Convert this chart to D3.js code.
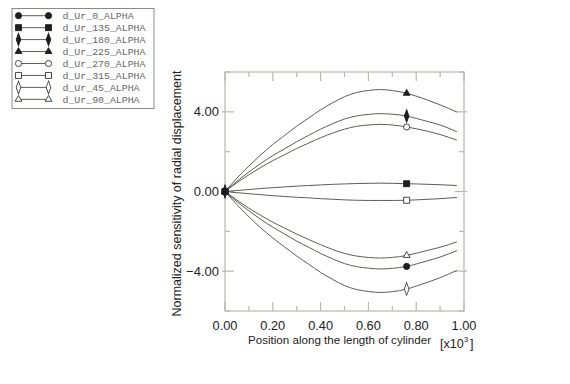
<!DOCTYPE html>
<html>
<head>
<meta charset="utf-8">
<script src="https://cdn.jsdelivr.net/npm/d3@7"></script>
<style>
  body { margin: 0; background: #fff; }
  svg { display: block; font-family: "Liberation Sans", Arial, sans-serif; }
</style>
</head>
<body>
<div id="chart"></div>
<script>
// position along the cylinder (x10^3)
const xs = [0, 0.05, 0.1, 0.15, 0.2, 0.25, 0.3, 0.35, 0.4, 0.45, 0.5, 0.55, 0.6, 0.65, 0.7, 0.76, 0.8, 0.85, 0.9, 0.97];

// series
const ur0   = [0, -0.51, -0.97, -1.40, -1.79, -2.14, -2.49, -2.80, -3.11, -3.38, -3.62, -3.77, -3.85, -3.89, -3.86, -3.76, -3.64, -3.47, -3.29, -2.97];
const ur135 = [0, 0.05, 0.10, 0.15, 0.19, 0.23, 0.27, 0.30, 0.33, 0.36, 0.38, 0.40, 0.41, 0.42, 0.41, 0.39, 0.38, 0.36, 0.34, 0.30];
const ur180 = [0, 0.51, 0.98, 1.41, 1.80, 2.15, 2.50, 2.82, 3.13, 3.40, 3.64, 3.79, 3.87, 3.91, 3.88, 3.79, 3.67, 3.51, 3.34, 3.00];
const ur225 = [0, 0.67, 1.28, 1.84, 2.36, 2.82, 3.28, 3.69, 4.10, 4.45, 4.76, 4.97, 5.07, 5.12, 5.07, 4.93, 4.79, 4.58, 4.35, 3.99];
const ur270 = [0, 0.44, 0.84, 1.21, 1.55, 1.85, 2.16, 2.43, 2.70, 2.93, 3.13, 3.27, 3.34, 3.37, 3.34, 3.24, 3.15, 3.02, 2.86, 2.58];
const ur315 = [0, -0.06, -0.11, -0.16, -0.21, -0.25, -0.29, -0.32, -0.36, -0.39, -0.42, -0.44, -0.45, -0.45, -0.45, -0.44, -0.42, -0.39, -0.36, -0.30];
const ur45  = [0, -0.66, -1.27, -1.83, -2.33, -2.79, -3.24, -3.65, -4.06, -4.41, -4.72, -4.92, -5.02, -5.07, -5.03, -4.90, -4.75, -4.55, -4.33, -3.96];
const ur90  = [0, -0.43, -0.84, -1.20, -1.54, -1.84, -2.14, -2.41, -2.67, -2.91, -3.11, -3.24, -3.31, -3.34, -3.31, -3.21, -3.10, -2.95, -2.80, -2.53];

const markerXs = [0, 0.76];
const yTickLabels = [-4, 0, 4];
const xTickLabels = [0, 0.2, 0.4, 0.6, 0.8, 1.0];

// legend order as in the picture
const series = [
  { name: "d_Ur_0_ALPHA",   values: ur0,   shape: "circle",   filled: true },
  { name: "d_Ur_135_ALPHA", values: ur135, shape: "square",   filled: true },
  { name: "d_Ur_180_ALPHA", values: ur180, shape: "diamond",  filled: true },
  { name: "d_Ur_225_ALPHA", values: ur225, shape: "triangle", filled: true },
  { name: "d_Ur_270_ALPHA", values: ur270, shape: "circle",   filled: false },
  { name: "d_Ur_315_ALPHA", values: ur315, shape: "square",   filled: false },
  { name: "d_Ur_45_ALPHA",  values: ur45,  shape: "diamond",  filled: false },
  { name: "d_Ur_90_ALPHA",  values: ur90,  shape: "triangle", filled: false }
];

const width = 570, height = 384;
const plot = { left: 225, right: 464, top: 72, bottom: 311 };
const lineColor = "#5e5e56";
const frameColor = "#b8b8ae";

const svg = d3.select("#chart").append("svg")
  .attr("width", width)
  .attr("height", height);

const x = d3.scaleLinear().domain([0, 1]).range([plot.left, plot.right]);
const y = d3.scaleLinear().domain([-6, 6]).range([plot.bottom, plot.top]);

// frame
svg.append("rect")
  .attr("x", plot.left).attr("y", plot.top)
  .attr("width", plot.right - plot.left).attr("height", plot.bottom - plot.top)
  .attr("fill", "none").attr("stroke", frameColor).attr("stroke-width", 1.2);

// ticks on all four sides, pointing inward
const yTicks = d3.range(-6, 6.01, 2);
const xTicks = d3.range(0, 1.001, 0.1);
const isMajorY = v => Math.abs(v % 4) < 1e-6;
const isMajorX = v => Math.abs(Math.round(v * 10) % 2) === 0;

const ticks = svg.append("g").attr("stroke", frameColor).attr("stroke-width", 1.2);
yTicks.forEach(v => {
  const len = isMajorY(v) ? 9 : 5;
  ticks.append("line").attr("x1", plot.left - (isMajorY(v) ? 3 : 0)).attr("x2", plot.left + len)
    .attr("y1", y(v)).attr("y2", y(v));
  ticks.append("line").attr("x1", plot.right - len).attr("x2", plot.right + (isMajorY(v) ? 3 : 0))
    .attr("y1", y(v)).attr("y2", y(v));
});
xTicks.forEach(v => {
  const len = isMajorX(v) ? 9 : 5;
  ticks.append("line").attr("x1", x(v)).attr("x2", x(v))
    .attr("y1", plot.top).attr("y2", plot.top + len);
  ticks.append("line").attr("x1", x(v)).attr("x2", x(v))
    .attr("y1", plot.bottom - len).attr("y2", plot.bottom);
});

// tick labels
svg.append("g").selectAll("text")
  .data(yTickLabels)
  .join("text")
  .attr("x", plot.left - 6)
  .attr("y", d => y(d))
  .attr("dy", "0.35em")
  .attr("text-anchor", "end")
  .attr("font-size", 13)
  .attr("fill", "#222")
  .text(d => d3.format(".2f")(d));

svg.append("g").selectAll("text")
  .data(xTickLabels)
  .join("text")
  .attr("x", d => x(d))
  .attr("y", plot.bottom + 18.5)
  .attr("text-anchor", "middle")
  .attr("font-size", 12.8)
  .attr("fill", "#222")
  .text(d => d3.format(".2f")(d));

// axis titles
svg.append("text")
  .attr("x", 248).attr("y", 344)
  .attr("font-size", 11.6)
  .attr("fill", "#222")
  .text("Position along the length of cylinder");

const unit = svg.append("text")
  .attr("x", 440).attr("y", 348)
  .attr("font-size", 12.5)
  .attr("fill", "#222");
unit.append("tspan").text("[x10");
unit.append("tspan").attr("font-size", 8).attr("dy", -6).text("3");
unit.append("tspan").attr("dy", 6).attr("dx", 2).text("]");

svg.append("text")
  .attr("transform", `translate(181,${(plot.top + plot.bottom) / 2 + 2}) rotate(-90)`)
  .attr("text-anchor", "middle")
  .attr("font-size", 12.5)
  .attr("fill", "#222")
  .text("Normalized sensitivity of radial displacement");

// curves
const line = d3.line()
  .x(d => x(d[0]))
  .y(d => y(d[1]))
  .curve(d3.curveMonotoneX);

svg.append("g").selectAll("path")
  .data(series)
  .join("path")
  .attr("d", s => line(xs.map((v, i) => [v, s.values[i]])))
  .attr("fill", "none")
  .attr("stroke", lineColor)
  .attr("stroke-width", 1);

// marker symbols
function symbolFor(shape) {
  if (shape === "circle") return d3.symbol().type(d3.symbolCircle).size(30);
  if (shape === "square") return d3.symbol().type(d3.symbolSquare).size(36);
  if (shape === "triangle") return d3.symbol().type(d3.symbolTriangle).size(20);
  return d3.symbol().type(d3.symbolDiamond).size(30);
}

function drawMarker(g, s, cx, cy) {
  const m = g.append("path")
    .attr("d", symbolFor(s.shape)())
    .attr("fill", s.filled ? "#1e1e1e" : "#fff")
    .attr("stroke", s.filled ? "#1e1e1e" : "#333")
    .attr("stroke-width", 0.9);
  if (s.shape === "diamond") {
    m.attr("transform", `translate(${cx},${cy}) scale(0.8,1.25)`);
  } else {
    m.attr("transform", `translate(${cx},${cy})`);
  }
}

// open markers first, filled ones on top (origin shows as a dark blob)
const markers = svg.append("g");
const drawOrder = series.filter(s => !s.filled).concat(series.filter(s => s.filled));
drawOrder.forEach(s => {
  xs.forEach((v, i) => {
    if (markerXs.includes(v)) drawMarker(markers, s, x(v), y(s.values[i]));
  });
});

// legend
const legend = svg.append("g");
legend.append("rect")
  .attr("x", 12).attr("y", 8.5)
  .attr("width", 142).attr("height", 100)
  .attr("fill", "#fff").attr("stroke", "#8a8a84").attr("stroke-width", 1);

series.forEach((s, i) => {
  const ly = 15.7 + i * 11.95;
  legend.append("line")
    .attr("x1", 18).attr("x2", 49)
    .attr("y1", ly).attr("y2", ly)
    .attr("stroke", lineColor).attr("stroke-width", 1);
  drawMarker(legend, s, 18.5, ly);
  drawMarker(legend, s, 48.5, ly);
  legend.append("text")
    .attr("x", 62.5).attr("y", ly)
    .attr("dy", "0.35em")
    .attr("font-family", "'Liberation Mono', 'Courier New', monospace")
    .attr("font-size", 9.9)
    .attr("fill", "#666")
    .text(s.name);
});
</script>
</body>
</html>
